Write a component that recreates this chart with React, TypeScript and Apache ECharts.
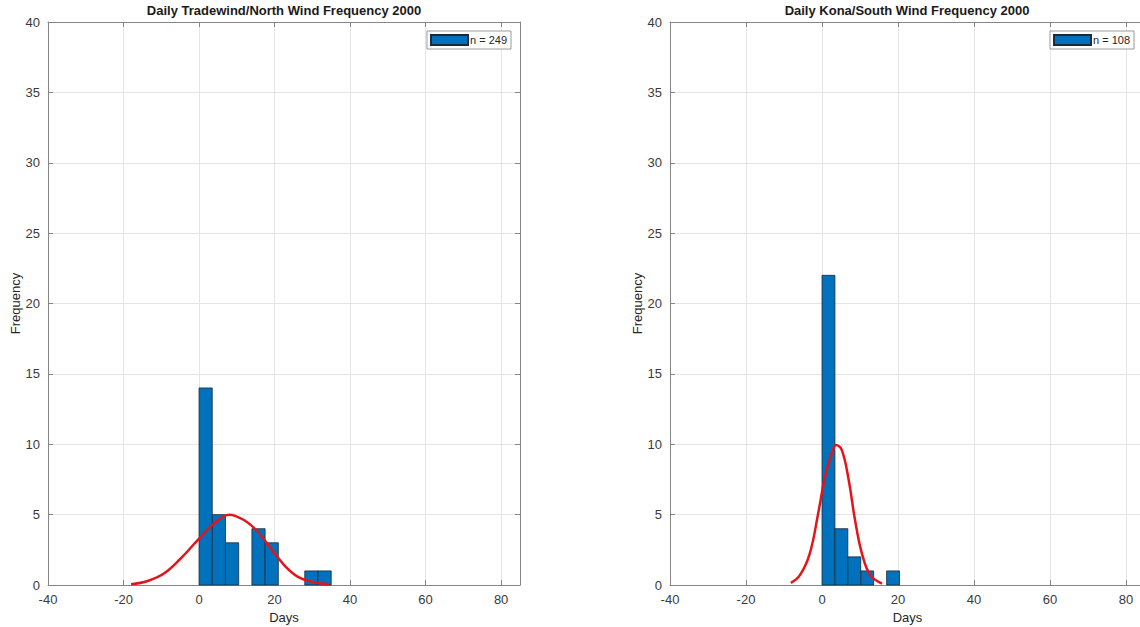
import React, { useEffect, useRef } from "react";
import * as echarts from "echarts";

// ---- Data ----
const leftTitle = "Daily Tradewind/North Wind Frequency 2000";
const rightTitle = "Daily Kona/South Wind Frequency 2000";
const leftLegend = "n = 249";
const rightLegend = "n = 108";

const leftEdges = [0, 3.5, 7, 10.5, 14, 17.5, 21, 24.5, 28, 31.5, 35];
const leftCounts = [14, 5, 3, 0, 4, 3, 0, 0, 1, 1];

const rightEdges = [0, 3.4, 6.8, 10.2, 13.6, 17, 20.4];
const rightCounts = [22, 4, 2, 1, 0, 1];

const leftCurveX = [-18, -13.6, -9.2, -4.8, 0, 4.1, 8, 12, 15.5, 19, 22.6, 26.1, 30.5, 34.5];
const leftCurveY = [0.05, 0.28, 0.83, 1.9, 3.3, 4.4, 5.0, 4.6, 3.8, 2.6, 1.4, 0.6, 0.19, 0.05];

const rightCurveX = [-8.2, -5.8, -3.2, -1, 0.8, 2.6, 3.7, 5.2, 7, 8.7, 10.5, 12.7, 15.8];
const rightCurveY = [0.15, 0.7, 2.25, 5.1, 7.7, 9.4, 9.95, 9.6, 7.5, 4.6, 2.25, 0.7, 0.1];

const xTicks = [-40, -20, 0, 20, 40, 60, 80];
const yTicks = [0, 5, 10, 15, 20, 25, 30, 35, 40];

const FONT = "'Liberation Sans', Arial, Helvetica, sans-serif";
const AXIS_COLOR = "#858585";
const GRID_COLOR = "#e4e4e4";
const BAR_COLOR = "#0072BD";
const CURVE_COLOR = "#e3151a";
const LABEL_SIZE = 13;

function binData(edges: number[], counts: number[]) {
  return counts.map((c, i) => [edges[i], edges[i + 1], c]);
}

function App() {
  const ref = useRef<HTMLDivElement>(null);

  useEffect(() => {
    if (!ref.current) return;
    const chart = echarts.init(ref.current, undefined, { renderer: "svg" });

    const grids = [
      { left: 48, top: 22, width: 472, height: 563, outerBoundsMode: "none" },
      { left: 670, top: 22, width: 475, height: 563, outerBoundsMode: "none" },
    ];

    const xMin = xTicks[0];
    const xMax = 85;
    const yMin = yTicks[0];
    const yMax = yTicks[yTicks.length - 1];

    const xAxes: any[] = [];
    const yAxes: any[] = [];
    grids.forEach((_, gi) => {
      xAxes.push({
        type: "value",
        gridIndex: gi,
        min: xMin,
        max: xMax,
        interval: 20,
        position: "bottom",
        name: "Days",
        nameLocation: "middle",
        nameGap: 26,
        nameTextStyle: { fontFamily: FONT, fontSize: LABEL_SIZE, color: "#262626" },
        axisLine: { show: true, onZero: false, lineStyle: { color: AXIS_COLOR, width: 1 } },
        axisTick: { show: true, inside: true, length: 5, lineStyle: { color: AXIS_COLOR } },
        axisLabel: {
          fontFamily: FONT,
          fontSize: LABEL_SIZE,
          color: "#3a3a3a",
          margin: 8,
          formatter: (v: number) => (xTicks.includes(v) ? String(v) : ""),
        },
        splitLine: { show: true, lineStyle: { color: GRID_COLOR, width: 1 } },
      });
      xAxes.push({
        type: "value",
        gridIndex: gi,
        min: xMin,
        max: xMax,
        interval: 20,
        position: "top",
        axisLine: { show: true, onZero: false, lineStyle: { color: AXIS_COLOR, width: 1 } },
        axisTick: { show: true, inside: true, length: 5, lineStyle: { color: AXIS_COLOR } },
        axisLabel: { show: false },
        splitLine: { show: false },
      });
      yAxes.push({
        type: "value",
        gridIndex: gi,
        min: yMin,
        max: yMax,
        interval: 5,
        position: "left",
        name: "Frequency",
        nameLocation: "middle",
        nameGap: 25,
        nameTextStyle: { fontFamily: FONT, fontSize: LABEL_SIZE, color: "#262626" },
        axisLine: { show: true, onZero: false, lineStyle: { color: AXIS_COLOR, width: 1 } },
        axisTick: { show: true, inside: true, length: 5, lineStyle: { color: AXIS_COLOR } },
        axisLabel: { fontFamily: FONT, fontSize: LABEL_SIZE, color: "#3a3a3a", margin: 8 },
        splitLine: { show: true, lineStyle: { color: GRID_COLOR, width: 1 } },
      });
      yAxes.push({
        type: "value",
        gridIndex: gi,
        min: yMin,
        max: yMax,
        interval: 5,
        position: "right",
        axisLine: { show: true, onZero: false, lineStyle: { color: AXIS_COLOR, width: 1 } },
        axisTick: { show: true, inside: true, length: 5, lineStyle: { color: AXIS_COLOR } },
        axisLabel: { show: false },
        splitLine: { show: false },
      });
    });

    const renderHist = (params: any, api: any) => {
      const x0 = api.value(0);
      const x1 = api.value(1);
      const c = api.value(2);
      if (!c) return null;
      const p0 = api.coord([x0, c]);
      const p1 = api.coord([x1, 0]);
      return {
        type: "rect",
        shape: { x: p0[0], y: p0[1], width: p1[0] - p0[0], height: p1[1] - p0[1] },
        style: { fill: BAR_COLOR, stroke: "#1c2b3a", lineWidth: 0.8 },
      };
    };

    const histSeries = (name: string, data: number[][], gi: number) => ({
      type: "custom",
      name,
      xAxisIndex: gi * 2,
      yAxisIndex: gi * 2,
      renderItem: renderHist,
      encode: { x: [0, 1], y: 2 },
      itemStyle: { color: BAR_COLOR, borderColor: "#1c2b3a", borderWidth: 0.8 },
      data,
      z: 2,
    });

    const curveSeries = (xs: number[], ys: number[], gi: number) => ({
      type: "line",
      name: "fit" + gi,
      xAxisIndex: gi * 2,
      yAxisIndex: gi * 2,
      data: xs.map((x, i) => [x, ys[i]]),
      smooth: 0.4,
      showSymbol: false,
      lineStyle: { color: CURVE_COLOR, width: 2.5 },
      itemStyle: { color: CURVE_COLOR },
      z: 5,
    });

    const legendCommon = {
      orient: "horizontal",
      icon: "rect",
      itemWidth: 37,
      itemHeight: 10,
      selectedMode: false,
      backgroundColor: "#ffffff",
      borderColor: "#9a9a9a",
      borderWidth: 1,
      borderRadius: 0,
      padding: [3, 4, 3, 3],
      textStyle: { fontFamily: FONT, fontSize: 11, color: "#262626", padding: [0, 0, 0, -3] },
    };

    const titleStyle = { fontFamily: FONT, fontSize: 13, fontWeight: "bold", color: "#1a1a1a" };

    chart.setOption({
      animation: false,
      backgroundColor: "#ffffff",
      title: [
        { text: leftTitle, left: 284, top: 4, padding: 0, textAlign: "center", textStyle: titleStyle },
        { text: rightTitle, left: 907, top: 4, padding: 0, textAlign: "center", textStyle: titleStyle },
      ],
      legend: [
        { ...legendCommon, data: [leftLegend], left: 427, top: 31 },
        { ...legendCommon, data: [rightLegend], left: 1050, top: 31 },
      ],
      grid: grids,
      xAxis: xAxes,
      yAxis: yAxes,
      series: [
        histSeries(leftLegend, binData(leftEdges, leftCounts), 0),
        curveSeries(leftCurveX, leftCurveY, 0),
        histSeries(rightLegend, binData(rightEdges, rightCounts), 1),
        curveSeries(rightCurveX, rightCurveY, 1),
      ],
    });

    return () => chart.dispose();
  }, []);

  return (
    <div
      ref={ref}
      style={{ position: "fixed", left: 0, top: 0, width: 1200, height: 627, background: "#fff" }}
    />
  );
}

export default App;
